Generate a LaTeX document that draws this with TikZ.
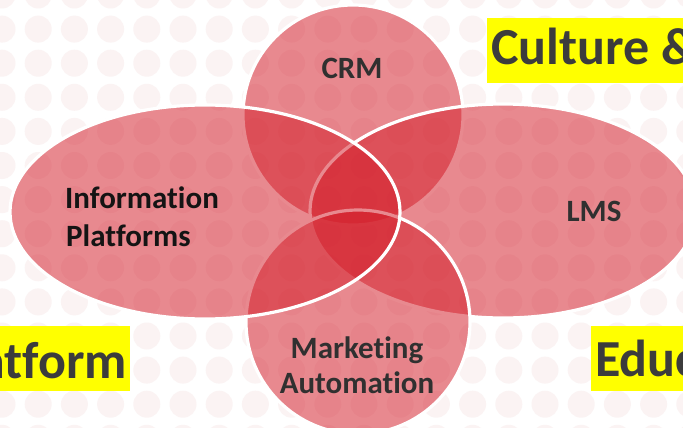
\documentclass[tikz,border=0pt]{standalone}
\usepackage{fontspec}
\setmainfont{Carlito}[Ligatures=NoCommon]
\definecolor{vennred}{RGB}{212,30,42}
\definecolor{dotcol}{RGB}{251,243,243}
\definecolor{inkgray}{RGB}{48,48,48}
\definecolor{inkdark}{RGB}{20,20,20}
\definecolor{taggray}{RGB}{60,60,60}
\definecolor{tagyellow}{RGB}{255,255,0}
\begin{document}
\begin{tikzpicture}[x=1pt,y=-1pt,
  venn/.style={draw=white, line width=3.2pt, fill=vennred, fill opacity=0.52},
  setlabel/.style={font=\bfseries\fontsize{31}{38}\selectfont, text=inkgray, inner sep=0pt},
  tagtext/.style={font=\bfseries\fontsize{52}{60}\selectfont, text=taggray, inner sep=0pt},
  tagbox/.style={fill=tagyellow}]
\useasboundingbox (0,0) rectangle (683,428);
\clip (0,0) rectangle (683,428);
\fill[white] (0,0) rectangle (683,428);
% dotted backdrop
\foreach \i in {0,...,19}
  \foreach \j in {0,...,13}
    \fill[dotcol] ({2+36.2*\i},{-5+34.1*\j}) circle (13.5);
% the four overlapping sets
\path[venn] (353,115) circle (110);
\path[venn] (503,211) ellipse [x radius=193, y radius=107];
\path[venn] (358,322) circle (112);
\path[venn] (205,212) ellipse [x radius=195, y radius=107];
% set names
\node[setlabel, anchor=base] (crm) at (352,78) {CRM};
\node[setlabel, anchor=base] (lms) at (594,221) {LMS};
\node[setlabel, text=inkdark, anchor=base west] (info1) at (65,208) {Information};
\node[setlabel, text=inkdark, anchor=base west] (info2) at (66,246) {Platforms};
\node[setlabel, anchor=base] (ma1) at (357,358) {Marketing};
\node[setlabel, anchor=base] (ma2) at (357,393) {Automation};
% highlighted captions
\fill[tagbox] (487,18) rectangle (700,83);
\node[tagtext, anchor=base west] (culture) at (491,65) {Culture \&};
\fill[tagbox] (-20,326) rectangle (130,391);
\node[tagtext, anchor=base east] (platform) at (127,378) {Platform};
\fill[tagbox] (591,326) rectangle (700,391);
\node[tagtext, anchor=base west] (educ) at (595,376) {Educ};
\end{tikzpicture}
\end{document}
